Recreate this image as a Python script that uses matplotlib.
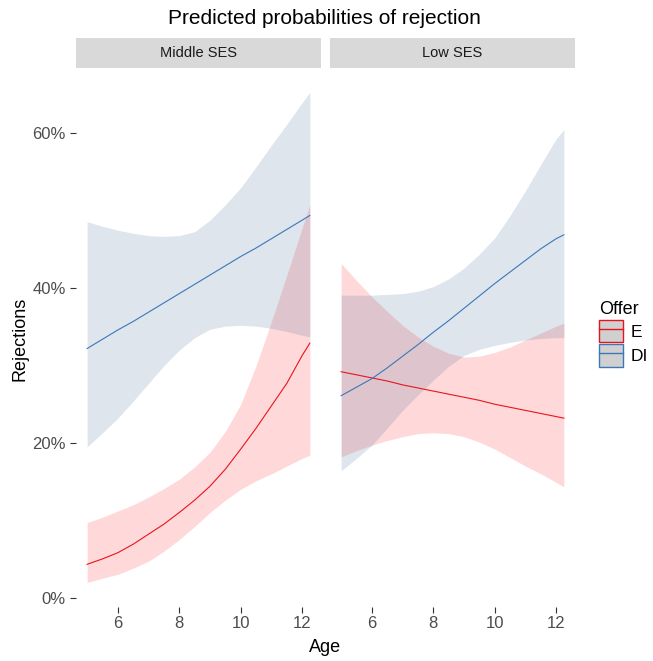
import matplotlib
matplotlib.use("Agg")
import matplotlib.pyplot as plt
from matplotlib.patches import Patch
from matplotlib.lines import Line2D
import numpy as np

plt.rcParams['font.family'] = ['Liberation Sans', 'DejaVu Sans']

age = [5, 5.5, 6, 6.5, 7, 7.5, 8, 8.5, 9, 9.5, 10, 10.5, 11, 11.5, 12, 12.25]

panels = ["Middle SES", "Low SES"]
offers = ["E", "DI"]

# Middle SES
mid_e = [.043, .050, .058, .069, .082, .095, .110, .126, .144, .166, .192, .219, .248, .277, .313, .329]
mid_e_hi = [.097, .104, .112, .120, .130, .141, .153, .169, .188, .215, .250, .300, .357, .417, .478, .508]
mid_e_lo = [.0195, .025, .030, .038, .047, .060, .075, .092, .110, .126, .140, .151, .160, .170, .180, .184]
mid_di = [.322, .334, .346, .357, .369, .381, .393, .405, .417, .429, .441, .452, .464, .476, .488, .494]
mid_di_hi = [.486, .480, .475, .471, .468, .467, .468, .473, .488, .508, .530, .557, .585, .612, .640, .653]
mid_di_lo = [.195, .213, .232, .254, .277, .300, .320, .336, .347, .351, .352, .351, .348, .344, .339, .337]

# Low SES
low_e = [.292, .288, .284, .280, .275, .271, .267, .263, .259, .255, .250, .246, .242, .238, .234, .232]
low_e_hi = [.432, .410, .389, .370, .352, .337, .325, .316, .311, .312, .317, .324, .333, .342, .351, .355]
low_e_lo = [.182, .190, .197, .203, .208, .212, .213, .212, .208, .201, .192, .181, .170, .160, .149, .143]
low_di = [.261, .272, .283, .297, .312, .327, .343, .358, .374, .390, .406, .421, .436, .451, .464, .469]
low_di_hi = [.391, .391, .391, .392, .393, .396, .402, .412, .426, .444, .465, .494, .526, .560, .593, .605]
low_di_lo = [.164, .180, .197, .219, .242, .262, .281, .299, .313, .321, .326, .330, .333, .335, .336, .336]

data = {
    "Middle SES": {"E": (mid_e, mid_e_lo, mid_e_hi), "DI": (mid_di, mid_di_lo, mid_di_hi)},
    "Low SES": {"E": (low_e, low_e_lo, low_e_hi), "DI": (low_di, low_di_lo, low_di_hi)},
}

line_col = {"E": "#e8141c", "DI": "#3a78b8"}
fill_col = {"E": (1.0, 0.0, 0.0, 0.15), "DI": (0.14, 0.33, 0.55, 0.15)}

W, H = 653, 661
fig = plt.figure(figsize=(W / 100, H / 100), dpi=100)

# ggplot style 5% expansion
xmin, xmax = min(age), max(age)
xr = xmax - xmin
allv = mid_e_lo + mid_e_hi + mid_di_lo + mid_di_hi + low_e_lo + low_e_hi + low_di_lo + low_di_hi
ymin, ymax = min(allv), max(allv)
yr = ymax - ymin

lefts = [76, 330]
pw = 245
ptop, pbot = 68, 607
for i, name in enumerate(panels):
    ax = fig.add_axes([lefts[i] / W, 1 - pbot / H, pw / W, (pbot - ptop) / H])
    for off in offers:
        y, lo, hi = data[name][off]
        ax.fill_between(age, lo, hi, color=fill_col[off], lw=0)
    for off in offers:
        y, lo, hi = data[name][off]
        ax.plot(age, y, color=line_col[off], lw=0.8)
    ax.set_xlim(xmin - 0.05 * xr, xmax + 0.05 * xr)
    ax.set_ylim(ymin - 0.05 * yr, ymax + 0.05 * yr)
    for s in ax.spines.values():
        s.set_visible(False)
    ax.set_xticks([6, 8, 10, 12])
    ax.tick_params(axis='x', colors='#333333', labelcolor='#4d4d4d', labelsize=12,
                   length=4, width=0.8, pad=2.5)
    if i == 0:
        ax.set_yticks([0, .2, .4, .6])
        ax.set_yticklabels(["0%", "20%", "40%", "60%"])
        ax.tick_params(axis='y', colors='#333333', labelcolor='#4d4d4d', labelsize=12,
                       length=4, width=0.8, pad=3.5)
    else:
        ax.set_yticks([])

    # strip
    sax = fig.add_axes([lefts[i] / W, 1 - ptop / H, pw / W, 30 / H])
    sax.set_facecolor('#d9d9d9')
    sax.set_xticks([])
    sax.set_yticks([])
    for s in sax.spines.values():
        s.set_visible(False)
    sax.text(0.5, 0.5, name, ha='center', va='center', fontsize=10.5, color='#1a1a1a',
             transform=sax.transAxes)

fig.text(324.5 / W, 1 - 18 / H, "Predicted probabilities of rejection", ha='center', va='center',
         fontsize=15, color='black')
fig.text(325 / W, 1 - 648 / H, "Age", ha='center', va='center', fontsize=13)
fig.text(20 / W, 1 - 339 / H, "Rejections", ha='center', va='center', fontsize=13, rotation=90)

handles = [(Patch(facecolor='#d0d0d0', edgecolor=line_col[o], lw=1.0),
            Line2D([], [], color=line_col[o], lw=1.0)) for o in offers]
fig.legend(handles, offers, loc='upper left', bbox_to_anchor=(599 / W, 1 - 301 / H),
           frameon=False, title="Offer", title_fontsize=13, fontsize=12.5,
           handlelength=1.4, handleheight=1.6, labelspacing=0.12, handletextpad=0.45,
           borderpad=0, borderaxespad=0, alignment='left')

fig.savefig("out.png", dpi=100)
